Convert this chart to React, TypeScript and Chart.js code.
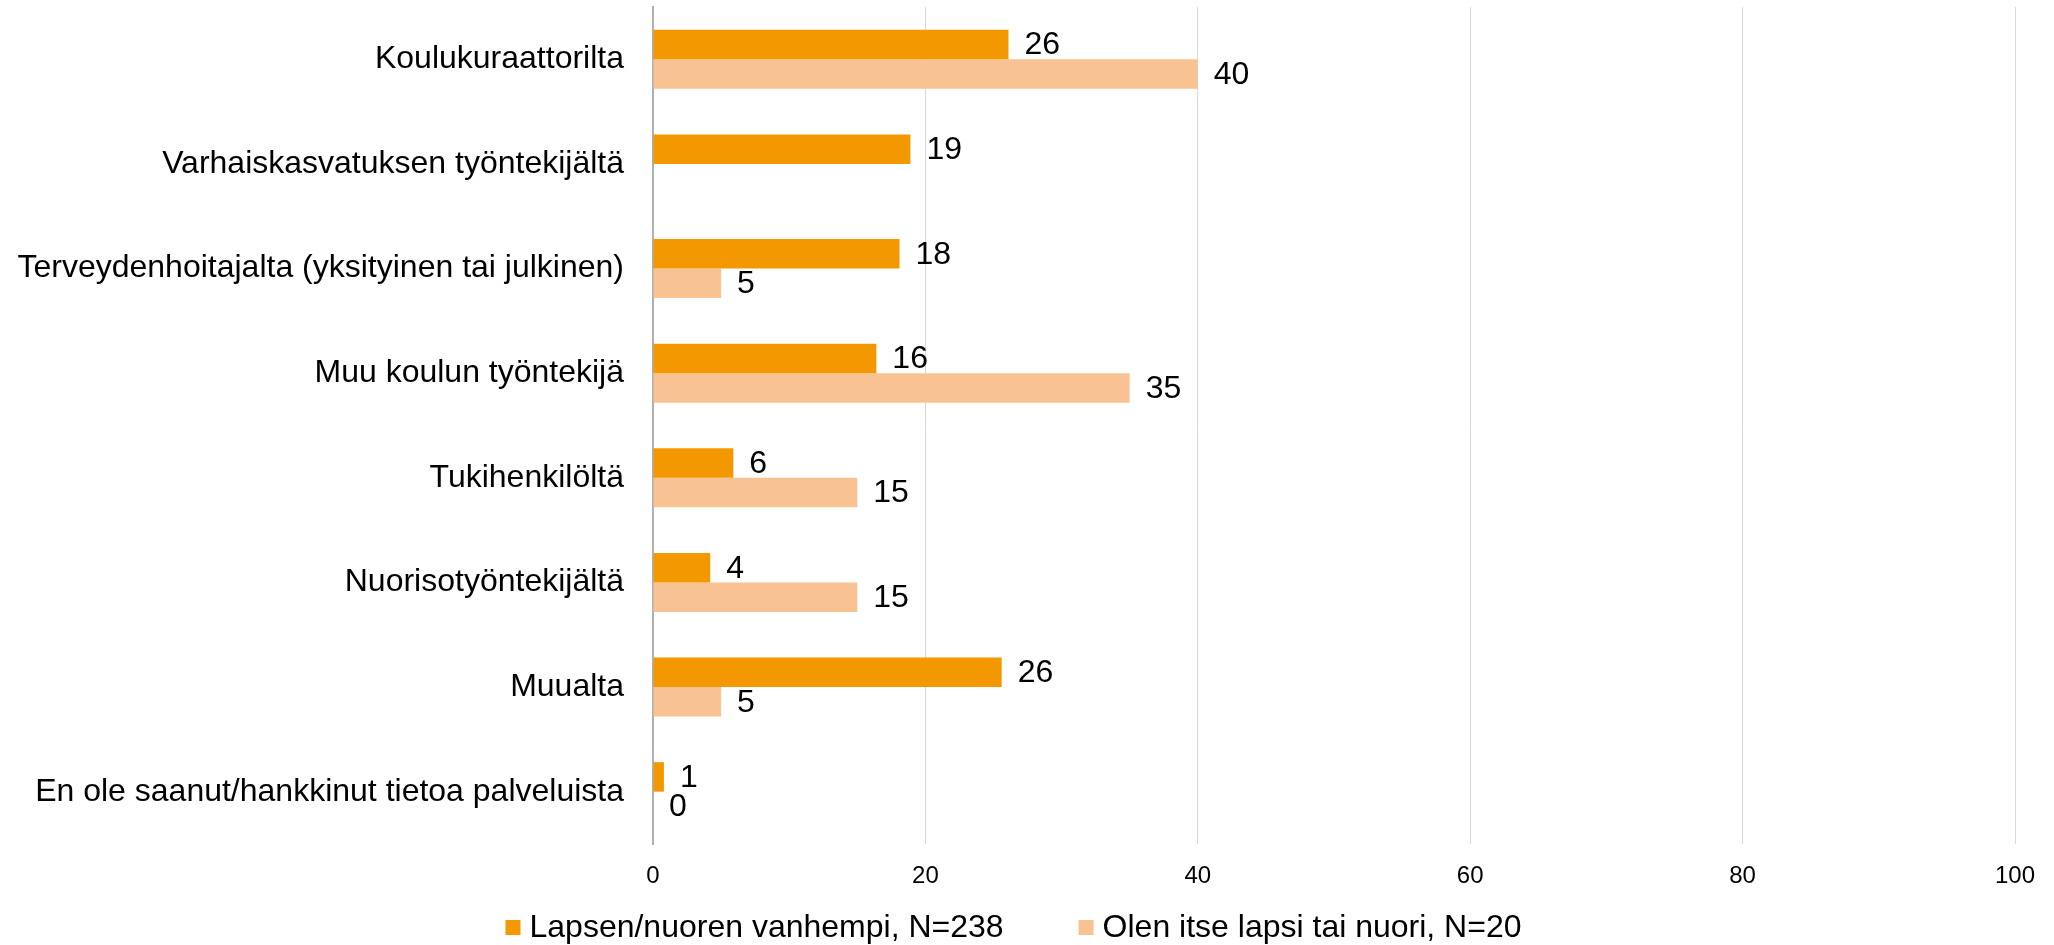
import React, { useEffect, useRef } from "react";
import { Chart, registerables } from "chart.js";

Chart.register(...registerables);

const categories = [
  "Koulukuraattorilta",
  "Varhaiskasvatuksen työntekijältä",
  "Terveydenhoitajalta (yksityinen tai julkinen)",
  "Muu koulun työntekijä",
  "Tukihenkilöltä",
  "Nuorisotyöntekijältä",
  "Muualta",
  "En ole saanut/hankkinut tietoa palveluista",
];

const seriesNames = ["Lapsen/nuoren vanhempi, N=238", "Olen itse lapsi tai nuori, N=20"];

const parentValues = [26.1, 18.9, 18.1, 16.4, 5.9, 4.2, 25.6, 0.8];
const childValues: (number | null)[] = [40, null, 5, 35, 15, 15, 5, 0];

const xTicks = [0, 20, 40, 60, 80, 100];

const COLORS = ["#F39800", "#F9C292"];
const FONT = "'Liberation Sans', Arial, sans-serif";

const dataLabelPlugin = {
  id: "dataLabels",
  afterDatasetsDraw(chart: any) {
    const ctx = chart.ctx;
    ctx.save();
    ctx.font = `32px ${FONT}`;
    ctx.fillStyle = "#000";
    ctx.textAlign = "left";
    ctx.textBaseline = "middle";
    chart.data.datasets.forEach((ds: any, di: number) => {
      const meta = chart.getDatasetMeta(di);
      meta.data.forEach((el: any, i: number) => {
        const v = ds.data[i];
        if (v === null || v === undefined) return;
        ctx.fillText(String(Math.round(v)), el.x + 16, el.y + 1);
      });
    });
    ctx.restore();
  },
};

const legendPlugin = {
  id: "customLegend",
  afterDraw(chart: any) {
    const ctx = chart.ctx;
    ctx.save();
    ctx.font = `32px ${FONT}`;
    ctx.textAlign = "left";
    ctx.textBaseline = "middle";
    const box = 15;
    const gap = 9;
    const itemGap = 75;
    const items = chart.data.datasets.map((d: any) => ({
      text: d.label,
      color: d.backgroundColor,
      w: ctx.measureText(d.label).width,
    }));
    let total = 0;
    items.forEach((it: any, i: number) => {
      total += box + gap + it.w + (i < items.length - 1 ? itemGap : 0);
    });
    let x = 1013.5 - total / 2;
    const cy = 927.5;
    items.forEach((it: any) => {
      ctx.fillStyle = it.color;
      ctx.fillRect(x, cy - box / 2, box, box);
      ctx.fillStyle = "#000";
      ctx.fillText(it.text, x + box + gap, cy + 1);
      x += box + gap + it.w + itemGap;
    });
    ctx.restore();
  },
};

export default function App() {
  const ref = useRef<HTMLCanvasElement | null>(null);

  useEffect(() => {
    if (!ref.current) return;
    const chart = new Chart(ref.current, {
      type: "bar",
      data: {
        labels: categories,
        datasets: [
          {
            label: seriesNames[0],
            data: parentValues,
            backgroundColor: COLORS[0],
            categoryPercentage: 0.564,
            barPercentage: 1,
          },
          {
            label: seriesNames[1],
            data: childValues,
            backgroundColor: COLORS[1],
            categoryPercentage: 0.564,
            barPercentage: 1,
          },
        ],
      },
      options: {
        indexAxis: "y",
        responsive: false,
        animation: false,
        layout: { padding: { top: 7, right: 39, bottom: 46, left: 0 } },
        plugins: {
          legend: { display: false },
          tooltip: { enabled: false },
        },
        scales: {
          x: {
            min: 0,
            max: 100,
            afterBuildTicks(scale: any) {
              scale.ticks = xTicks.map((v) => ({ value: v }));
            },
            afterFit(scale: any) {
              scale.height = 55;
              scale.paddingLeft = 0;
              scale.paddingRight = 0;
            },
            grid: { color: "#D9D9D9", lineWidth: 1, drawTicks: false },
            border: { display: false },
            ticks: {
              font: { size: 24, family: FONT },
              color: "#000",
              padding: 18,
            },
          },
          y: {
            afterFit(scale: any) {
              scale.width = 653;
              scale.paddingTop = 0;
              scale.paddingBottom = 0;
            },
            grid: { display: false, drawTicks: false },
            border: { display: true, color: "#B0B0B0", width: 2 },
            ticks: {
              font: { size: 32, family: FONT },
              color: "#000",
              padding: 29,
            },
          },
        },
      },
      plugins: [dataLabelPlugin, legendPlugin],
    } as any);
    return () => chart.destroy();
  }, []);

  return (
    <div style={{ position: "fixed", left: 0, top: 0, width: 2054, height: 945, background: "#fff" }}>
      <canvas ref={ref} width={2054} height={945} style={{ width: 2054, height: 945 }} />
    </div>
  );
}
